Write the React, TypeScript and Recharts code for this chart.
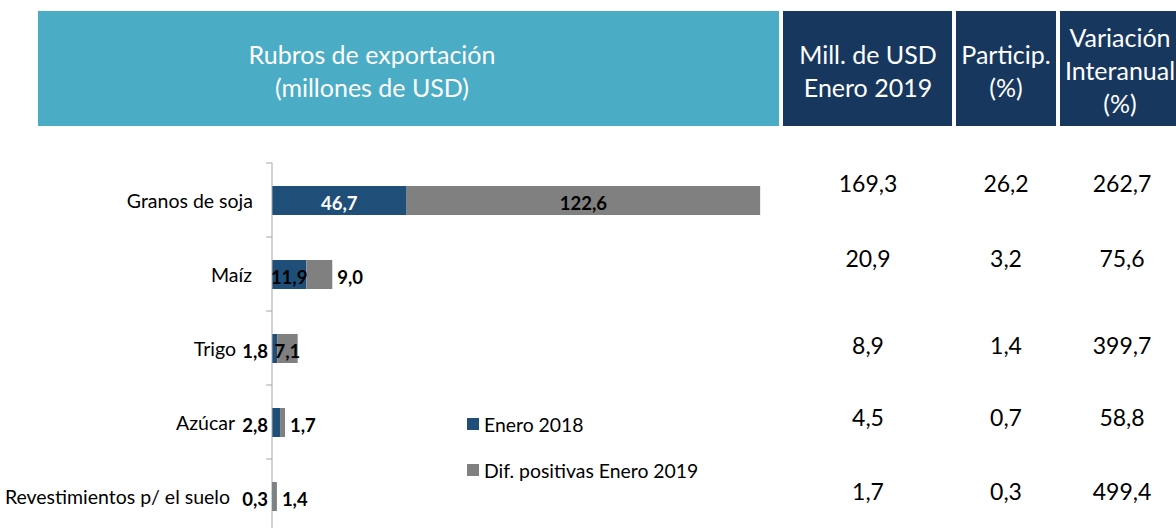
import { BarChart, Bar, XAxis, YAxis, Legend, LabelList } from "recharts";

const categories = [
  "Granos de soja",
  "Maíz",
  "Trigo",
  "Azúcar",
  "Revestimientos p/ el suelo",
];
const enero2018 = [46.7, 11.9, 1.8, 2.8, 0.3];
const difPositivas2019 = [122.6, 9.0, 7.1, 1.7, 1.4];
const millUsd2019 = [169.3, 20.9, 8.9, 4.5, 1.7];
const participacion = [26.2, 3.2, 1.4, 0.7, 0.3];
const variacionInteranual = [262.7, 75.6, 399.7, 58.8, 499.4];
const seriesNames = ["Enero 2018", "Dif. positivas Enero 2019"];

const data = categories.map((name, i) => ({
  name,
  enero2018: enero2018[i],
  dif: difPositivas2019[i],
}));

// label placement per row (style only)
const blueLabelPlace = ["inside", "inside", "left", "left", "left"];
const blueLabelColor = ["#FFFFFF", "#000", "#000", "#000", "#000"];
const grayLabelPlace = ["inside", "right", "inside", "right", "right"];
const tickLabelGap = [19, 20, 36, 37, 42];
const tableRowY = [183, 258, 345, 417, 491];

const BLUE = "#1F4E79";
const GRAY = "#808080";
const LIGHT = "#4BACC6";
const NAVY = "#17375E";
const FONT = "Lato, 'Open Sans', sans-serif";

const PLOT_TOP = 163;
const PLOT_H = 370;
const BAND = PLOT_H / categories.length;

const fmt = (v: number) => v.toFixed(1).replace(".", ",");

const makeLabel =
  (place: string[], colors: string[] | null) => (props: any) => {
    const { x, y, width, height, index, value } = props;
    const p = place[index];
    let tx = x + width / 2;
    let anchor = "middle";
    if (p === "left") {
      tx = x - 4;
      anchor = "end";
    } else if (p === "right") {
      tx = x + width + 5;
      anchor = "start";
    }
    return (
      <text
        x={tx}
        y={y + height / 2 + 2}
        textAnchor={anchor}
        dominantBaseline="central"
        fontFamily={FONT}
        fontWeight={700}
        fontSize={18.5}
        fill={colors ? colors[index] : "#000"}
      >
        {fmt(value)}
      </text>
    );
  };

const CategoryTick = (props: any) => {
  const { x, y, payload, index } = props;
  const half = BAND / 2;
  return (
    <g>
      <line x1={x - 6} x2={x} y1={y - half} y2={y - half} stroke="#A6A6A6" />
      {index === categories.length - 1 && (
        <line x1={x - 6} x2={x} y1={y + half} y2={y + half} stroke="#A6A6A6" />
      )}
      <text
        x={x - tickLabelGap[index]}
        y={y}
        textAnchor="end"
        dominantBaseline="central"
        fontFamily={FONT}
        fontSize={19.5}
        fill="#000"
      >
        {payload.value}
      </text>
    </g>
  );
};

const renderLegend = (props: any) => {
  const items = [...(props.payload || [])].sort(
    (a: any, b: any) => seriesNames.indexOf(a.value) - seriesNames.indexOf(b.value)
  );
  return (
    <div style={{ fontFamily: FONT, fontSize: 19.4, color: "#000" }}>
      {items.map((entry: any) => (
        <div
          key={entry.value}
          style={{ display: "flex", alignItems: "center", height: 46 }}
        >
          <span
            style={{
              width: 12,
              height: 12,
              background: entry.color,
              marginRight: 5,
              display: "inline-block",
            }}
          />
          <span>{entry.value}</span>
        </div>
      ))}
    </div>
  );
};

const headerText: React.CSSProperties = {
  position: "absolute",
  color: "#FFFFFF",
  fontFamily: FONT,
  fontSize: 25,
  lineHeight: "33px",
  textAlign: "center",
  whiteSpace: "nowrap",
};

const columns = [
  { values: millUsd2019, center: 868 },
  { values: participacion, center: 1006 },
  { values: variacionInteranual, center: 1122 },
];

export default function App() {
  return (
    <div
      style={{
        position: "absolute",
        left: 0,
        top: 0,
        width: 1176,
        height: 528,
        overflow: "hidden",
        background: "#FFFFFF",
      }}
    >
      {/* header boxes */}
      <div style={{ position: "absolute", left: 38, top: 11, width: 741, height: 115, background: LIGHT }} />
      <div style={{ position: "absolute", left: 783, top: 11, width: 169, height: 115, background: NAVY }} />
      <div style={{ position: "absolute", left: 956, top: 11, width: 100, height: 115, background: NAVY }} />
      <div style={{ position: "absolute", left: 1060, top: 11, width: 130, height: 115, background: NAVY }} />

      <div style={{ ...headerText, left: 172, width: 400, top: 38 }}>
        Rubros de exportación
        <br />
        (millones de USD)
      </div>
      <div style={{ ...headerText, left: 768, width: 200, top: 38 }}>
        Mill. de USD
        <br />
        Enero 2019
      </div>
      <div style={{ ...headerText, left: 946, width: 120, top: 38 }}>
        Particip.
        <br />
        (%)
      </div>
      <div style={{ ...headerText, left: 1050, width: 140, top: 21 }}>
        Variación
        <br />
        Interanual
        <br />
        (%)
      </div>

      {/* table values */}
      {columns.map((col, c) =>
        col.values.map((v, r) => (
          <div
            key={`${c}-${r}`}
            style={{
              position: "absolute",
              left: col.center - 60,
              width: 120,
              top: tableRowY[r] - 15,
              height: 30,
              lineHeight: "30px",
              textAlign: "center",
              fontFamily: FONT,
              fontSize: 23,
              color: "#000",
            }}
          >
            {fmt(v)}
          </div>
        ))
      )}

      <div style={{ position: "absolute", left: 0, top: 0 }}>
        <BarChart
          width={791}
          height={PLOT_TOP + PLOT_H + 12}
          data={data}
          layout="vertical"
          margin={{ top: PLOT_TOP, right: 0, bottom: 12, left: 0 }}
        >
          <XAxis type="number" domain={[0, 180]} hide />
          <YAxis
            type="category"
            dataKey="name"
            width={272}
            axisLine={{ stroke: "#A6A6A6" }}
            tickLine={false}
            tickSize={0}
            tickMargin={0}
            interval={0}
            tick={<CategoryTick />}
          />
          <Legend
            layout="vertical"
            align="center"
            verticalAlign="middle"
            content={renderLegend}
            wrapperStyle={{ position: "absolute", left: 467, top: 401, width: 300 }}
          />
          <Bar
            dataKey="enero2018"
            name={seriesNames[0]}
            stackId="a"
            fill={BLUE}
            barSize={29}
            isAnimationActive={false}
          >
            <LabelList dataKey="enero2018" content={makeLabel(blueLabelPlace, blueLabelColor)} />
          </Bar>
          <Bar
            dataKey="dif"
            name={seriesNames[1]}
            stackId="a"
            fill={GRAY}
            barSize={29}
            isAnimationActive={false}
          >
            <LabelList dataKey="dif" content={makeLabel(grayLabelPlace, null)} />
          </Bar>
        </BarChart>
      </div>
    </div>
  );
}
